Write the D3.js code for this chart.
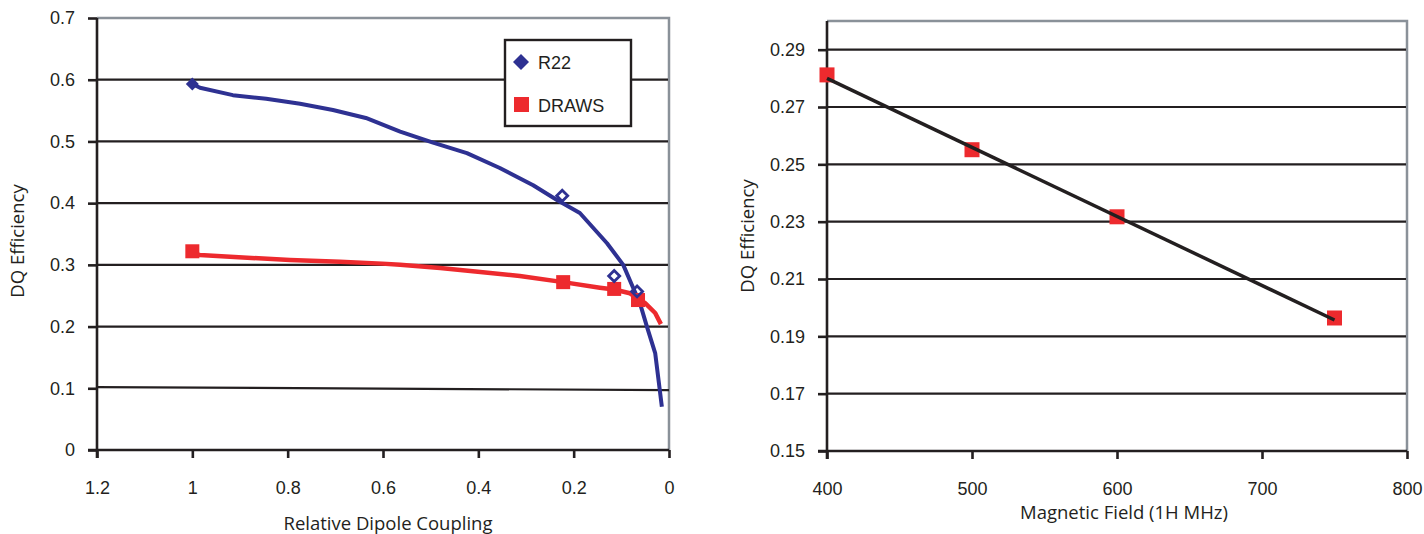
<!DOCTYPE html>
<html>
<head>
<meta charset="utf-8">
<script src="https://cdn.jsdelivr.net/npm/d3@7"></script>
<style>
  body { margin: 0; background: #fff; }
  .tick text { font-family: "Liberation Sans", Arial, sans-serif; font-size: 18px; fill: #231f20; }
  .axisTitle { font-family: "Open Sans", sans-serif; font-size: 18.5px; fill: #231f20; }
  .legendText { font-family: "Liberation Sans", Arial, sans-serif; font-size: 18px; fill: #231f20; }
</style>
</head>
<body>
<div id="chart"></div>
<script>
// left panel data: relative dipole coupling vs DQ efficiency
var leftTicksX = [1.2, 1, 0.8, 0.6, 0.4, 0.2, 0];
var leftTicksY = [0, 0.1, 0.2, 0.3, 0.4, 0.5, 0.6, 0.7];

var r22CurveX = [1.0, 0.984, 0.915, 0.845, 0.774, 0.705, 0.636, 0.564, 0.495, 0.424, 0.355, 0.285, 0.235, 0.187, 0.130, 0.096, 0.076, 0.061, 0.046, 0.029, 0.015];
var r22CurveY = [0.593, 0.587, 0.575, 0.569, 0.561, 0.551, 0.538, 0.516, 0.498, 0.481, 0.457, 0.429, 0.405, 0.384, 0.335, 0.300, 0.264, 0.238, 0.199, 0.157, 0.070];
var r22PointX = [1.0, 0.224, 0.115, 0.067];
var r22PointY = [0.593, 0.412, 0.282, 0.257];

var drawsCurveX = [1.0, 0.984, 0.921, 0.795, 0.690, 0.602, 0.564, 0.480, 0.401, 0.313, 0.222, 0.145, 0.115, 0.082, 0.050, 0.029, 0.017];
var drawsCurveY = [0.318, 0.316, 0.313, 0.308, 0.305, 0.302, 0.300, 0.295, 0.289, 0.282, 0.272, 0.263, 0.260, 0.254, 0.238, 0.222, 0.204];
var drawsPointX = [1.0, 0.222, 0.115, 0.065];
var drawsPointY = [0.322, 0.272, 0.261, 0.243];

// the slightly sloped black line near 0.1
var refLineX = [1.2, 0];
var refLineY = [0.102, 0.097];

// right panel data: magnetic field vs DQ efficiency
var rightTicksX = [400, 500, 600, 700, 800];
var rightTicksY = [0.15, 0.17, 0.19, 0.21, 0.23, 0.25, 0.27, 0.29];
var fieldMHz = [400, 500, 600, 750];
var fieldEff = [0.2812, 0.2551, 0.2317, 0.1964];
var trendX = [400, 750];
var trendY = [0.2800, 0.1957];

var blue = "#2e3192";
var red = "#ed2a2e";
var ink = "#231f20";
var grey = "#8a9199";

var svg = d3.select("#chart")
  .append("svg")
  .attr("width", 1424)
  .attr("height", 534);

function zip(xs, ys) {
  return xs.map((x, i) => [x, ys[i]]);
}

// draws the frame, grid and axes of one panel, returns the scales
function panel(opt) {
  var x = d3.scaleLinear().domain(opt.xDomain).range([opt.left, opt.right]);
  var y = d3.scaleLinear().domain(opt.yDomain).range([opt.bottom, opt.top]);

  // grey top and right border
  svg.append("path")
    .attr("d", `M${opt.left},${opt.top}H${opt.right}V${opt.bottom}`)
    .attr("fill", "none")
    .attr("stroke", grey)
    .attr("stroke-width", 2.5);

  // horizontal gridlines
  svg.append("g")
    .selectAll("line")
    .data(opt.gridY)
    .enter()
    .append("line")
    .attr("x1", opt.left)
    .attr("x2", opt.right - 1)
    .attr("y1", d => y(d))
    .attr("y2", d => y(d))
    .attr("stroke", ink)
    .attr("stroke-width", 2.2);

  var bottomAxis = d3.axisBottom(x).tickValues(opt.ticksX).tickSize(8).tickPadding(23).tickFormat(d3.format("~g"));
  var leftAxis = d3.axisLeft(y).tickValues(opt.ticksY).tickSize(9).tickPadding(13).tickFormat(opt.yFormat);

  var gx = svg.append("g")
    .attr("transform", `translate(0, ${opt.bottom})`)
    .call(bottomAxis);
  var gy = svg.append("g")
    .attr("transform", `translate(${opt.left}, 0)`)
    .call(leftAxis);

  [gx, gy].forEach(function(g) {
    g.select(".domain").attr("stroke", ink).attr("stroke-width", 2.6);
    g.selectAll(".tick line").attr("stroke", ink).attr("stroke-width", 2.6);
  });
  gy.select(".domain").attr("d", `M-0,${opt.top}V${opt.bottom + 8}`);
  gx.select(".domain").attr("d", `M${opt.left - 9},0H${opt.right}`);

  svg.append("text")
    .attr("class", "axisTitle")
    .attr("text-anchor", "middle")
    .attr("x", opt.xTitlePos[0])
    .attr("y", opt.xTitlePos[1])
    .text(opt.xTitle);

  svg.append("text")
    .attr("class", "axisTitle")
    .attr("text-anchor", "middle")
    .attr("transform", `translate(${opt.yTitlePos[0]}, ${opt.yTitlePos[1]}) rotate(-90)`)
    .text("DQ Efficiency");

  return { x: x, y: y };
}

function diamond(g, cx, cy, r) {
  return g.append("path")
    .attr("d", `M${cx},${cy - r}L${cx + r},${cy}L${cx},${cy + r}L${cx - r},${cy}Z`);
}

// ---------------- left panel ----------------
var L = panel({
  left: 97, right: 669, top: 18, bottom: 450,
  xDomain: [1.2, 0], yDomain: [0, 0.7],
  ticksX: leftTicksX, ticksY: leftTicksY,
  gridY: [0.2, 0.3, 0.4, 0.5, 0.6],
  yFormat: d3.format("~g"),
  xTitle: "Relative Dipole Coupling", xTitlePos: [388, 530],
  yTitlePos: [24, 241]
});

var lineL = d3.line().x(d => L.x(d[0])).y(d => L.y(d[1]));

svg.append("path")
  .attr("d", lineL(zip(refLineX, refLineY)))
  .attr("fill", "none")
  .attr("stroke", ink)
  .attr("stroke-width", 2.2);

svg.append("path")
  .attr("d", lineL(zip(drawsCurveX, drawsCurveY)))
  .attr("fill", "none")
  .attr("stroke", red)
  .attr("stroke-width", 4.5)
  .attr("stroke-linejoin", "round");

svg.append("path")
  .attr("d", lineL(zip(r22CurveX, r22CurveY)))
  .attr("fill", "none")
  .attr("stroke", blue)
  .attr("stroke-width", 4)
  .attr("stroke-linejoin", "round");

var markL = svg.append("g");
zip(drawsPointX, drawsPointY).forEach(function(p) {
  markL.append("rect")
    .attr("x", L.x(p[0]) - 7)
    .attr("y", L.y(p[1]) - 7)
    .attr("width", 14)
    .attr("height", 14)
    .attr("fill", red);
});
zip(r22PointX, r22PointY).forEach(function(p, i) {
  var dm = diamond(markL, L.x(p[0]), L.y(p[1]), i == 0 ? 6.5 : 5.5);
  if (i == 0) dm.attr("fill", blue);
  else dm.attr("fill", "none").attr("stroke", blue).attr("stroke-width", 2.8);
});

// legend
var legend = svg.append("g");
legend.append("rect")
  .attr("x", 505).attr("y", 40)
  .attr("width", 126).attr("height", 86)
  .attr("fill", "#fff")
  .attr("stroke", ink)
  .attr("stroke-width", 2.4);
diamond(legend, 521, 62, 8).attr("fill", blue);
legend.append("rect")
  .attr("x", 514).attr("y", 97)
  .attr("width", 15).attr("height", 15)
  .attr("fill", red);
legend.append("text").attr("class", "legendText").attr("x", 538).attr("y", 69).text("R22");
legend.append("text").attr("class", "legendText").attr("x", 538).attr("y", 112).text("DRAWS");

// ---------------- right panel ----------------
var R = panel({
  left: 827, right: 1407, top: 21, bottom: 451,
  xDomain: [400, 800], yDomain: [0.15, 0.30],
  ticksX: rightTicksX, ticksY: rightTicksY,
  gridY: [0.17, 0.19, 0.21, 0.23, 0.25, 0.27, 0.29],
  yFormat: d3.format(".2f"),
  xTitle: "Magnetic Field (1H MHz)", xTitlePos: [1124, 519],
  yTitlePos: [754, 236]
});

svg.append("g")
  .selectAll("rect")
  .data(zip(fieldMHz, fieldEff))
  .enter()
  .append("rect")
  .attr("x", d => R.x(d[0]) - 7.5)
  .attr("y", d => R.y(d[1]) - 7.5)
  .attr("width", 15)
  .attr("height", 15)
  .attr("fill", red);

svg.append("path")
  .attr("d", d3.line().x(d => R.x(d[0])).y(d => R.y(d[1]))(zip(trendX, trendY)))
  .attr("fill", "none")
  .attr("stroke", ink)
  .attr("stroke-width", 3.5);
</script>
</body>
</html>
